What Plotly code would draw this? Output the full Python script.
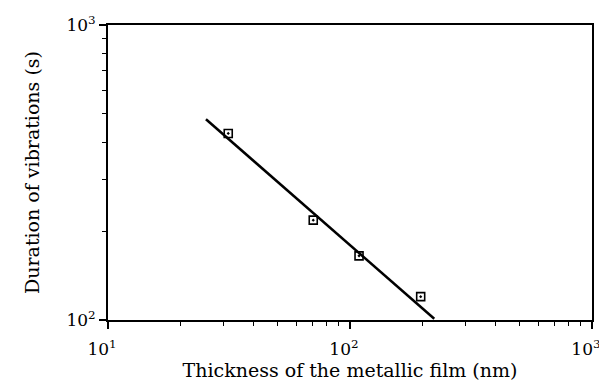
import plotly.graph_objects as go

thickness_nm = [31.4, 70.5, 109, 196]
duration_s = [429, 218, 165, 120]
fit_x = [25.4, 223]
fit_y = [479, 101]

fig = go.Figure()
fig.add_trace(go.Scatter(x=fit_x, y=fit_y, mode="lines",
                         line=dict(color="black", width=2.5), showlegend=False))
fig.add_trace(go.Scatter(x=thickness_nm, y=duration_s, mode="markers",
                         marker=dict(symbol="square-open-dot", size=8, color="black",
                                     line=dict(color="black", width=1.6)),
                         showlegend=False))

fig.update_layout(
    width=599, height=379,
    margin=dict(l=100, r=15, t=17, b=67),
    paper_bgcolor="white", plot_bgcolor="white",
    font=dict(family="DejaVu Serif", size=18, color="black"),
)
fig.update_xaxes(type="log", range=[1, 3.0002], showgrid=False, zeroline=False,
                 automargin=False,
                 showline=True, linecolor="black", linewidth=2, mirror=True,
                 tickvals=[10, 100, 1000],
                 ticktext=["10<sup>1</sup>", "10<sup>2</sup>", "10<sup>3</sup>"],
                 ticks="outside", ticklen=7, tickwidth=1.5, tickcolor="black",
                 ticklabelstandoff=6, ticklabeloverflow="allow", ticklabelshift=-6,
                 minor=dict(ticks="outside", ticklen=4, tickwidth=1.2, tickcolor="black",
                            tickvals=[v * d for d in (10, 100) for v in range(2, 10)]),
                 tickfont=dict(size=17),
                 title=dict(text="Thickness of the metallic film (nm)", font=dict(size=19), standoff=2))
fig.update_yaxes(type="log", range=[2, 3], showgrid=False, zeroline=False,
                 automargin=False,
                 showline=True, linecolor="black", linewidth=2, mirror=True,
                 tickvals=[100, 1000],
                 ticktext=["10<sup>2</sup>", "10<sup>3</sup>"],
                 ticks="outside", ticklen=7, tickwidth=1.5, tickcolor="black",
                 ticklabeloverflow="allow",
                 minor=dict(ticks="outside", ticklen=4, tickwidth=1.2, tickcolor="black",
                            tickvals=[v * 100 for v in range(2, 10)]),
                 tickfont=dict(size=17),
                 title=dict(text="Duration of vibrations (s)", font=dict(size=19), standoff=22))

fig.write_html("out.html")
